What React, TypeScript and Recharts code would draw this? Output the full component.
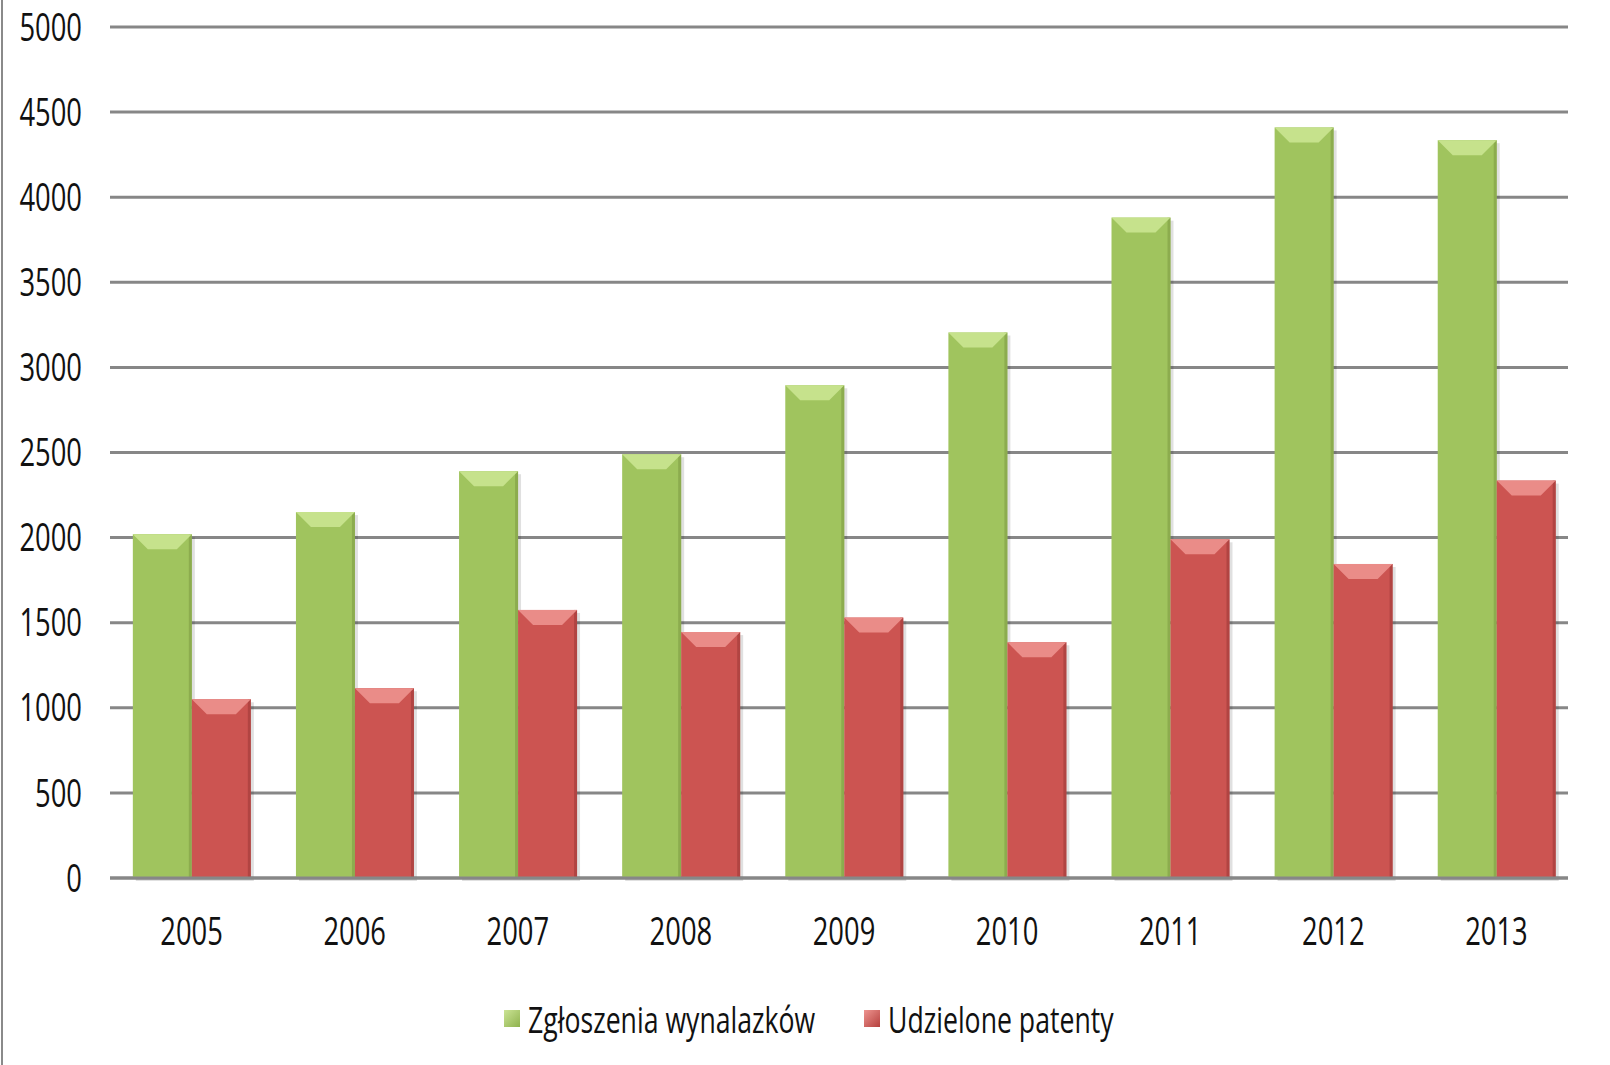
import React from "react";
import { BarChart, Bar, XAxis, YAxis, CartesianGrid, Legend } from "recharts";

const years = ["2005", "2006", "2007", "2008", "2009", "2010", "2011", "2012", "2013"];
const zgloszenia = [2020, 2150, 2390, 2490, 2895, 3205, 3880, 4410, 4335];
const patenty = [1050, 1115, 1575, 1445, 1530, 1385, 1990, 1845, 2335];
const yTicks = [0, 500, 1000, 1500, 2000, 2500, 3000, 3500, 4000, 4500, 5000];

const data = years.map((y, i) => ({
  year: y,
  "Zgłoszenia wynalazków": zgloszenia[i],
  "Udzielone patenty": patenty[i],
}));

const FONT = "'Open Sans', sans-serif";
const SQUEEZE = 0.72;

const PALETTE: Record<string, { main: string; light: string; dark: string }> = {
  green: { main: "#a0c45e", light: "#c6e28c", dark: "#7e9c45" },
  red: { main: "#cc5451", light: "#ea8c88", dark: "#9e3a38" },
};

// bevelled bar like the Excel original
const bevelBar = (tone: string) => (props: any) => {
  const { x, y, width, height } = props;
  if (!height || height <= 0) return null;
  const c = PALETTE[tone];
  const b = Math.min(15, height / 2);
  return (
    <g>
      <rect x={x + 3} y={y + 3} width={width} height={height} fill="#000" opacity={0.12} />
      <rect x={x} y={y} width={width} height={height} fill={c.main} />
      <rect x={x + width - 3} y={y} width={3} height={height} fill={c.dark} opacity={0.6} />
      <polygon
        points={`${x},${y} ${x + width},${y} ${x + width - b},${y + b} ${x + b},${y + b}`}
        fill={c.light}
      />
    </g>
  );
};

// narrow Calibri-like text: squeeze Open Sans horizontally
const NarrowTick = ({ x, y, payload, anchor, dy }: any) => (
  <g transform={`translate(${x},${y}) scale(${SQUEEZE},1)`}>
    <text x={0} y={0} dy={dy} textAnchor={anchor} fill="#111" fontSize={38} fontFamily={FONT}>
      {payload.value}
    </text>
  </g>
);

const LegendContent = () => {
  const item = (label: string, grad: string, left: number) => (
    <div style={{ position: "absolute", left, top: 0, height: 40, display: "flex", alignItems: "center" }}>
      <span style={{ display: "inline-block", width: 16, height: 17, background: grad, marginRight: 8 }} />
      <span
        style={{
          display: "inline-block",
          fontFamily: FONT,
          fontSize: 37,
          color: "#111",
          transform: `scaleX(${SQUEEZE})`,
          transformOrigin: "left center",
          whiteSpace: "nowrap",
        }}
      >
        {label}
      </span>
    </div>
  );
  return (
    <div style={{ position: "relative", height: 40 }}>
      {item("Zgłoszenia wynalazków", "linear-gradient(135deg,#cbe495,#8fb24e)", 504)}
      {item("Udzielone patenty", "linear-gradient(135deg,#ee9490,#b5403d)", 864)}
    </div>
  );
};

export default function App() {
  return (
    <div
      style={{
        position: "absolute",
        left: 0,
        top: 0,
        width: 1610,
        height: 1065,
        background: "#fff",
        overflow: "hidden",
      }}
    >
      <div style={{ position: "absolute", left: 1, top: 0, width: 2, height: 1065, background: "#8a8a8a" }} />
      <div style={{ position: "absolute", left: 0, top: 0, width: 1568, height: 1065, overflow: "hidden" }}>
        <BarChart
          width={1590}
          height={1065}
          data={data}
          margin={{ top: 27, right: 12, left: 0, bottom: 27 }}
          barCategoryGap="14%"
          barGap={0}
        >
          <CartesianGrid vertical={false} stroke="#878787" strokeWidth={3} />
          <XAxis
            dataKey="year"
            height={120}
            tickSize={0}
            tickMargin={40}
            axisLine={{ stroke: "#878787", strokeWidth: 3 }}
            tick={<NarrowTick anchor="middle" dy="0.72em" />}
          />
          <YAxis
            width={110}
            domain={[0, 5000]}
            ticks={yTicks}
            interval={0}
            tickSize={0}
            tickMargin={28}
            axisLine={false}
            tick={<NarrowTick anchor="end" dy="0.36em" />}
          />
          <Legend verticalAlign="bottom" height={40} content={<LegendContent />} />
          <Bar dataKey="Zgłoszenia wynalazków" fill="#a0c45e" shape={bevelBar("green")} isAnimationActive={false} />
          <Bar dataKey="Udzielone patenty" fill="#cc5451" shape={bevelBar("red")} isAnimationActive={false} />
        </BarChart>
      </div>
    </div>
  );
}
